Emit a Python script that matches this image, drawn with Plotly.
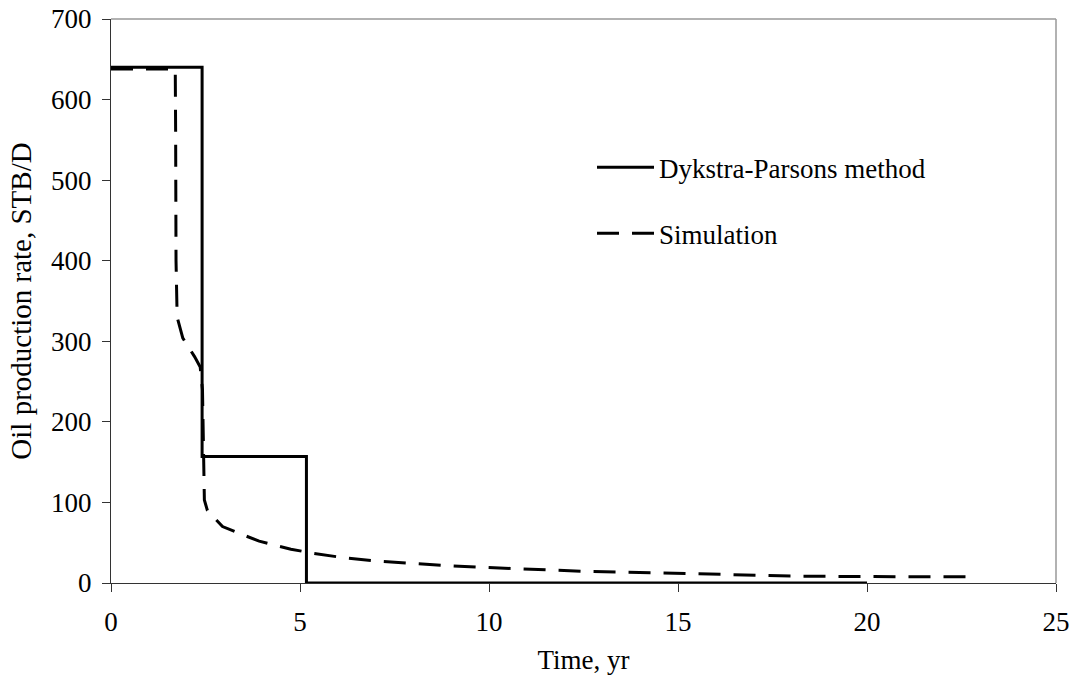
import plotly.graph_objects as go

# Dykstra-Parsons method (step function)
dp_time = [0, 2.41, 2.41, 5.17, 5.17, 20.0]
dp_rate = [640, 640, 157, 157, 0, 0]

# Simulation
sim_time = [0, 1.70, 1.71, 1.72, 1.75, 1.90, 2.21, 2.36, 2.42, 2.45, 2.47, 2.55, 2.69,
            2.95, 3.48, 3.92, 4.36, 4.76, 5.33, 6.21, 7.09, 7.97, 8.85, 9.73,
            12.46, 15.28, 16.2, 18.05, 20.0, 22.9]
sim_rate = [638, 638, 560, 400, 330, 304, 281, 268, 240, 160, 103, 90, 83,
            70, 60, 52, 46.5, 42, 37, 31, 27, 24, 21.7, 19.6,
            14.6, 11.8, 10.5, 8.5, 8.0, 7.6]

FONT = "Liberation Serif, Times New Roman, serif"

fig = go.Figure()
fig.add_trace(go.Scatter(x=dp_time, y=dp_rate, mode="lines", name="Dykstra-Parsons method",
                         line=dict(color="black", width=3), legendgroup="a"))
fig.add_trace(go.Scatter(x=sim_time, y=sim_rate, mode="lines", name="Simulation",
                         line=dict(color="black", width=3, dash="22px,13px"), legendgroup="b"))

fig.update_layout(
    width=1073, height=675,
    margin=dict(l=111, r=17, t=19, b=92),
    paper_bgcolor="white", plot_bgcolor="white",
    font=dict(family=FONT, size=27, color="black"),
    showlegend=True,
    legend=dict(x=0.509, y=0.78, xanchor="left", yanchor="top",
                bgcolor="rgba(0,0,0,0)", traceorder="grouped", tracegroupgap=28,
                itemwidth=57, font=dict(family=FONT, size=27)),
    xaxis=dict(range=[0, 25], tickvals=[0, 5, 10, 15, 20, 25], showgrid=False, zeroline=False,
               showline=True, linecolor="#333", linewidth=1, ticks="outside", ticklen=8,
               tickcolor="#333", ticklabelstandoff=7, automargin=False,
               title=dict(text="Time, yr", standoff=22, font=dict(size=27))),
    yaxis=dict(range=[0, 700], tickvals=[0, 100, 200, 300, 400, 500, 600, 700], showgrid=False,
               zeroline=False, showline=True, linecolor="#333", linewidth=1, ticks="outside",
               ticklen=8, tickcolor="#333", ticklabelstandoff=5, automargin=False,
               title=dict(text="Oil production rate, STB/D", standoff=10, font=dict(size=29))),
)
# light frame on top and right
fig.add_shape(type="line", xref="paper", yref="paper", x0=0, x1=1, y0=1, y1=1,
              line=dict(color="#999", width=1.5))
fig.add_shape(type="line", xref="paper", yref="paper", x0=1, x1=1, y0=0, y1=1,
              line=dict(color="#999", width=1.5))

fig.write_html("out.html")
